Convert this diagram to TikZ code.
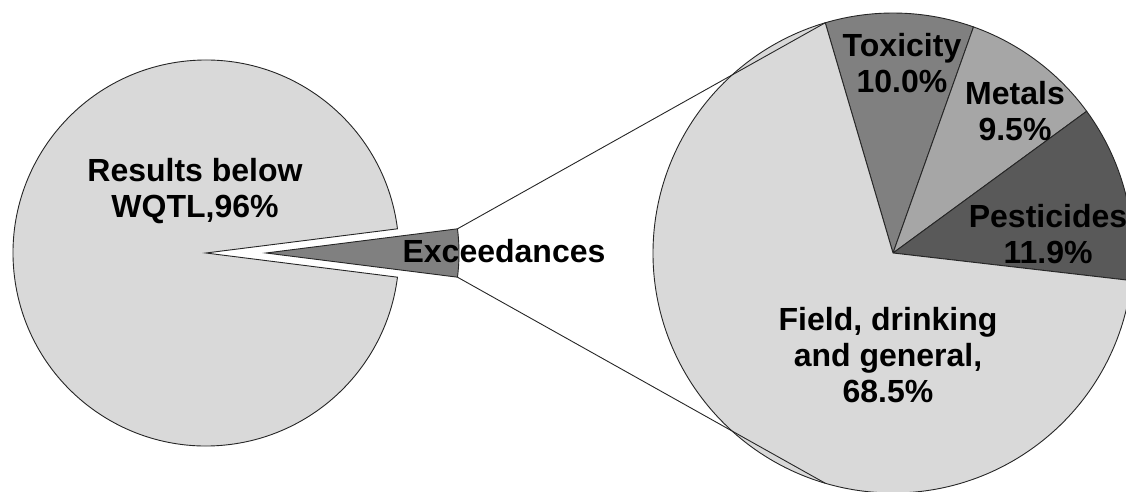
\documentclass[tikz,border=0pt]{standalone}
\usepackage{tikz}
\usetikzlibrary{calc}
\usetikzlibrary{positioning}
\usepackage{fontspec}
\setmainfont{Liberation Sans}
\definecolor{palegray}{RGB}{217, 217, 217}
\definecolor{midgray}{RGB}{128, 128, 128}
\definecolor{softgray}{RGB}{166, 166, 166}
\definecolor{deepgray}{RGB}{89, 89, 89}
\tikzset{
    slice/.style={draw=black!85, line width=0.9pt},
    link/.style={draw=black!85, line width=0.9pt},
    pielabel/.style={align=center, inner sep=0pt, text=black,
        font=\fontsize{32}{36}\selectfont\bfseries}
}

\begin{document}
\begin{tikzpicture}[x=1pt, y=1pt]
            \useasboundingbox (0,0) rectangle (1126,491);
            \clip (0,0) rectangle (1126,491);
            \coordinate (main)   at (206,238);
            \coordinate (exceed) at (266,238);
            \coordinate (detail) at (893,238);
            \filldraw[slice, fill=palegray] (main)   -- ++(7.2:193pt)   arc[start angle=7.2,   end angle=352.8, radius=193pt] -- cycle;
            \filldraw[slice, fill=midgray]  (exceed) -- ++(-7.2:193pt)  arc[start angle=-7.2,  end angle=7.2,   radius=193pt] -- cycle;
            \filldraw[slice, fill=midgray]  (detail) -- ++(106.4:240pt) arc[start angle=106.4, end angle=70.4,  radius=240pt] -- cycle;
            \filldraw[slice, fill=softgray] (detail) -- ++(70.4:240pt)  arc[start angle=70.4,  end angle=36.2,  radius=240pt] -- cycle;
            \filldraw[slice, fill=deepgray] (detail) -- ++(36.2:240pt)  arc[start angle=36.2,  end angle=-6.6,  radius=240pt] -- cycle;
            \filldraw[slice, fill=palegray] (detail) -- ++(-6.6:240pt)  arc[start angle=-6.6,  end angle=-253.6, radius=240pt] -- cycle;
            \coordinate (exceed top) at ($(exceed)+(7.2:193pt)$);
            \coordinate (exceed bot) at ($(exceed)+(-7.2:193pt)$);
            \coordinate (detail top) at ($(detail)+(106.4:240pt)$);
            \coordinate (detail bot) at ($(detail)+(253.6:240pt)$);
            \draw[link] (exceed top) -- (detail top);
            \draw[link] (exceed bot) -- (detail bot);
            \node[pielabel] (below)      at (195,300)  {Results below\\WQTL,96\%};
            \node[pielabel] (exceedlbl)  at (504,240)  {Exceedances};
            \node[pielabel] (toxicity)   at (902,428)  {Toxicity\\10.0\%};
            \node[pielabel] (metals)     at (1015,380) {Metals\\9.5\%};
            \node[pielabel] (pesticides) at (1048,257) {Pesticides\\11.9\%};
            \node[pielabel] (field)      at (888,136)  {Field, drinking\\and general,\\68.5\%};
        \end{tikzpicture}
\end{document}
